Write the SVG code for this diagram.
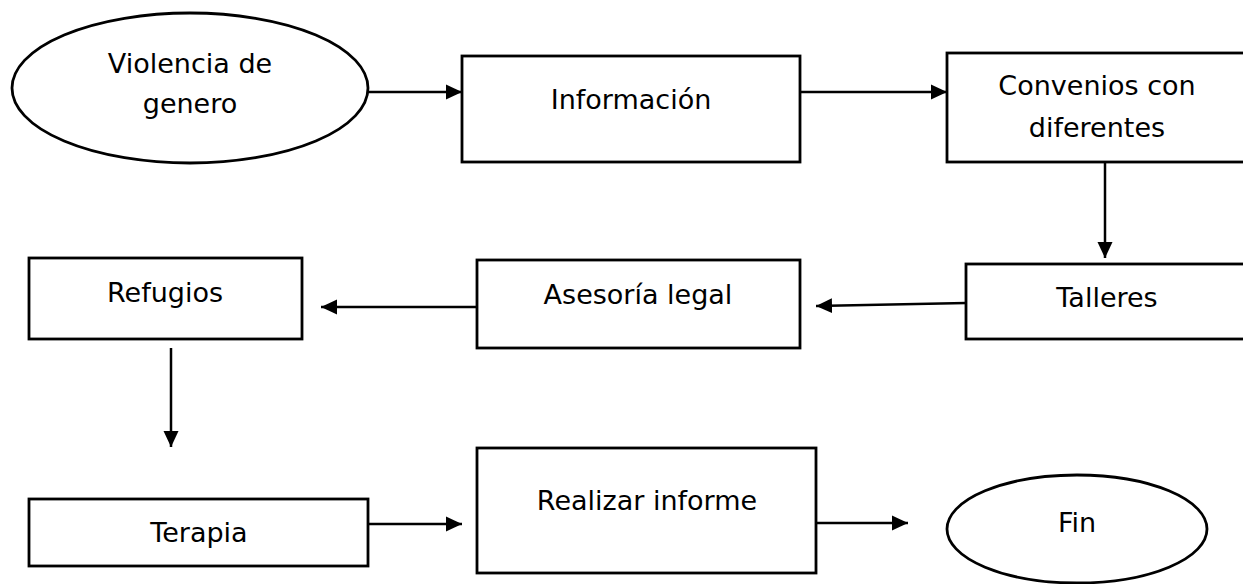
<svg xmlns="http://www.w3.org/2000/svg" width="1243" height="584" viewBox="0 0 1243 584">
<defs>
<marker id="ah" markerWidth="18" markerHeight="16" refX="16" refY="8" orient="auto" markerUnits="userSpaceOnUse">
<path d="M0,0.5 L16,8 L0,15.5 Z" fill="#000"/>
</marker>
<style>
.shape{fill:#fff;stroke:#000;stroke-width:2.8}
.lbl{font-family:"DejaVu Sans",Verdana,sans-serif;font-size:27px;fill:#000;text-anchor:middle}
.conn{stroke:#000;stroke-width:2.5;fill:none;marker-end:url(#ah)}
</style>
</defs>
<rect width="1243" height="584" fill="#fff"/>
<g id="connectors">
<line class="conn" x1="368" y1="92" x2="462" y2="92"/>
<line class="conn" x1="800" y1="92" x2="947" y2="92"/>
<line class="conn" x1="1105" y1="162" x2="1105" y2="258"/>
<line class="conn" x1="966" y1="303" x2="816" y2="306"/>
<line class="conn" x1="477" y1="307" x2="321" y2="307"/>
<line class="conn" x1="171" y1="348" x2="171" y2="447"/>
<line class="conn" x1="368" y1="524" x2="462" y2="524"/>
<line class="conn" x1="816" y1="523" x2="908" y2="523"/>
</g>
<g id="violencia">
<ellipse class="shape" cx="190" cy="88" rx="178" ry="75"/>
<text class="lbl" x="190" y="73">Violencia de</text>
<text class="lbl" x="190" y="113">genero</text>
</g>
<g id="informacion">
<rect class="shape" x="462" y="56" width="338" height="106"/>
<text class="lbl" x="631" y="109">Información</text>
</g>
<g id="convenios">
<rect class="shape" x="947" y="53" width="310" height="109"/>
<text class="lbl" x="1097" y="95">Convenios con</text>
<text class="lbl" x="1097" y="137">diferentes</text>
</g>
<g id="talleres">
<rect class="shape" x="966" y="264" width="290" height="75"/>
<text class="lbl" x="1107" y="307">Talleres</text>
</g>
<g id="asesoria">
<rect class="shape" x="477" y="260" width="323" height="88"/>
<text class="lbl" x="638" y="304">Asesoría legal</text>
</g>
<g id="refugios">
<rect class="shape" x="29" y="258" width="273" height="81"/>
<text class="lbl" x="165" y="302">Refugios</text>
</g>
<g id="terapia">
<rect class="shape" x="29" y="499" width="339" height="67"/>
<text class="lbl" x="199" y="542">Terapia</text>
</g>
<g id="realizar">
<rect class="shape" x="477" y="448" width="339" height="125"/>
<text class="lbl" x="647" y="510">Realizar informe</text>
</g>
<g id="fin">
<ellipse class="shape" cx="1077" cy="529" rx="130" ry="54"/>
<text class="lbl" x="1077" y="532">Fin</text>
</g>
</svg>
